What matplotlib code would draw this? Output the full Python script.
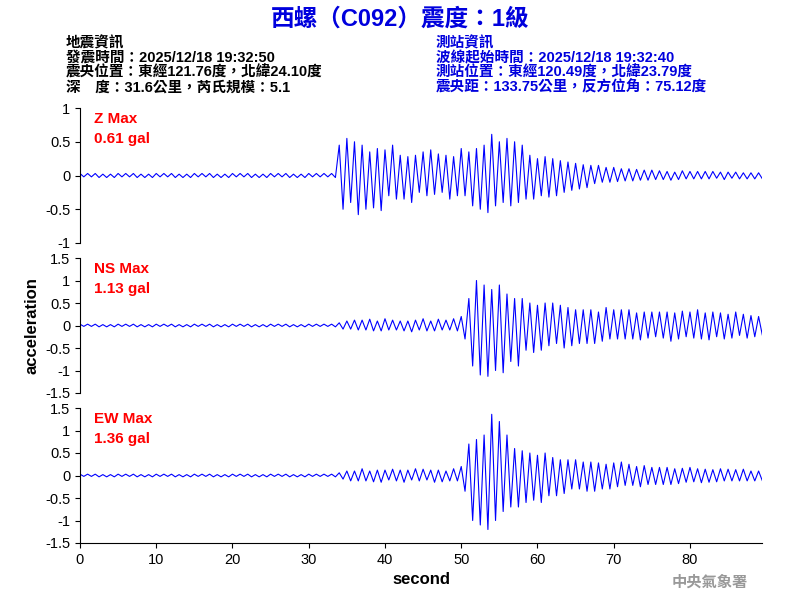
import matplotlib
matplotlib.use("Agg")
import matplotlib.pyplot as plt
import numpy as np

plt.rcParams['font.family'] = ['Liberation Sans', 'Noto Sans CJK TC']

# half-second peak amplitudes (gal)
z_amp = [0.03,0.02,0.03,0.02,0.03,0.03,0.02,0.03,0.02,0.03]*6 + [0.03,0.02,0.03,0.02,0.03,0.02,0.03,0.03] + \
 [0.45,0.5,0.55,0.4,0.5,0.58,0.45,0.5,0.35,0.48,0.4,0.52,0.38,0.3,0.45,0.35] + \
 [0.3,0.35,0.28,0.4,0.3,0.25,0.35,0.3,0.38,0.28,0.32,0.25,0.3,0.35,0.28,0.3,0.4,0.3,0.35,0.45] + \
 [0.4,0.5,0.45,0.55,0.61,0.45,0.5,0.4,0.55,0.45,0.5,0.4,0.45,0.35] + \
 [0.3,0.35,0.25,0.3,0.28,0.32,0.25,0.3,0.22,0.25,0.2,0.22,0.18,0.2,0.16,0.18] + \
 [0.15,0.12,0.15,0.1,0.12,0.1,0.12,0.09,0.1,0.08,0.1,0.08,0.09,0.07,0.08,0.07,0.08,0.06,0.07,0.06] + \
 [0.06,0.07,0.05,0.06,0.07,0.05,0.06,0.05,0.06,0.05,0.06,0.05,0.06,0.04,0.05,0.06,0.05,0.04,0.05,0.05,0.04,0.05,0.04,0.05,0.04,0.05,0.04,0.04,0.05,0.04]
ns_amp = [0.03,0.02,0.03,0.02,0.03,0.03,0.02,0.03,0.02,0.03]*6 + [0.03,0.02,0.03,0.02,0.03,0.02,0.03,0.03] + \
 [0.06,0.08,0.1,0.08,0.12,0.1,0.12,0.1,0.14,0.12,0.1,0.12,0.15,0.1,0.12,0.1] + \
 [0.1,0.12,0.1,0.14,0.12,0.1,0.15,0.12,0.1,0.12,0.14,0.1,0.12,0.1,0.15,0.12,0.2,0.3,0.6,0.9] + \
 [1.0,1.1,0.9,1.13,0.8,1.0,0.9,1.05,0.7,0.8,0.6,0.9,0.6,0.55] + \
 [0.5,0.6,0.45,0.55,0.5,0.45,0.5,0.4,0.45,0.5,0.4,0.45,0.35,0.4,0.35,0.4] + \
 [0.35,0.4,0.3,0.35,0.4,0.3,0.35,0.3,0.35,0.3,0.35,0.3,0.28,0.32,0.3,0.28,0.3,0.25,0.3,0.28] + \
 [0.3,0.35,0.28,0.3,0.32,0.25,0.3,0.28,0.35,0.3,0.28,0.32,0.3,0.25,0.28,0.3,0.25,0.28,0.3,0.22,0.25,0.28,0.22,0.25,0.2,0.22,0.25,0.2,0.18,0.2]
ew_amp = [0.03,0.02,0.03,0.02,0.03,0.03,0.02,0.03,0.02,0.03]*6 + [0.03,0.02,0.03,0.02,0.03,0.02,0.03,0.03] + \
 [0.06,0.08,0.1,0.12,0.1,0.12,0.15,0.12,0.1,0.14,0.12,0.15,0.12,0.1,0.14,0.12] + \
 [0.12,0.15,0.12,0.1,0.15,0.12,0.14,0.1,0.12,0.15,0.12,0.14,0.1,0.12,0.15,0.12,0.2,0.35,0.7,1.0] + \
 [0.8,1.1,0.9,1.2,1.36,1.0,1.2,0.8,0.9,0.7,0.6,0.7,0.55,0.6] + \
 [0.5,0.55,0.45,0.6,0.5,0.45,0.4,0.45,0.35,0.4,0.35,0.3,0.35,0.3,0.3,0.35] + \
 [0.3,0.35,0.28,0.3,0.25,0.3,0.28,0.25,0.3,0.22,0.25,0.22,0.2,0.25,0.22,0.2,0.18,0.2,0.18,0.2] + \
 [0.18,0.2,0.15,0.18,0.16,0.15,0.18,0.14,0.15,0.16,0.14,0.15,0.13,0.14,0.15,0.12,0.14,0.12,0.13,0.12,0.14,0.12,0.1,0.12,0.1,0.12,0.1,0.11,0.1,0.1]
channels = ["Z", "NS", "EW"]
peaks = ["0.61 gal", "1.13 gal", "1.36 gal"]
ylims = [(-1, 1), (-1.5, 1.5), (-1.5, 1.5)]
yticks = [[-1, -0.5, 0, 0.5, 1], [-1.5, -1, -0.5, 0, 0.5, 1, 1.5], [-1.5, -1, -0.5, 0, 0.5, 1, 1.5]]

fig = plt.figure(figsize=(8, 6), dpi=100)
fig.text(0.5, 0.968, "西螺（C092）震度：1級", color="#0000dd", fontsize=17, fontweight="bold", ha="center", va="center")
left = ["地震資訊", "發震時間：2025/12/18 19:32:50", "震央位置：東經121.76度，北緯24.10度", "深　度：31.6公里，芮氏規模：5.1"]
right = ["測站資訊", "波線起始時間：2025/12/18 19:32:40", "測站位置：東經120.49度，北緯23.79度", "震央距：133.75公里，反方位角：75.12度"]
for i, (l, r) in enumerate(zip(left, right)):
    y = 0.928 - i * 0.0245
    fig.text(0.082, y, l, fontsize=10.5, fontweight="bold", va="center")
    fig.text(0.545, y, r, fontsize=10.5, fontweight="bold", va="center", color="#0000dd")
fig.text(0.935, 0.03, "中央氣象署", fontsize=11, fontweight="bold", color="#999999", ha="right", va="center")

tops = [108, 258, 408]
axes = []
for i, ch in enumerate(channels):
    ax = fig.add_axes([0.1, 1 - (tops[i] + 135) / 600, 0.853, 135 / 600])
    amp = np.array([z_amp, ns_amp, ew_amp][i])
    t = np.arange(len(amp)) * 0.5
    sign = np.where(np.arange(len(amp)) % 2 == 0, 1, -1)
    ax.plot(t, amp * sign, color="#0000ff", lw=0.8)
    ax.set_xlim(0, 89.5)
    ax.set_ylim(*ylims[i])
    ax.set_yticks(yticks[i])
    ax.set_yticklabels([f"{v:g}" for v in yticks[i]])
    for s in ["top", "right"]:
        ax.spines[s].set_visible(False)
    ax.tick_params(labelsize=10.5)
    ax.text(0.02, 0.97, f"{ch} Max\n{peaks[i]}", transform=ax.transAxes, color="red", fontsize=11,
            fontweight="bold", va="top", linespacing=1.5)
    if i < 2:
        ax.spines["bottom"].set_visible(False)
        ax.set_xticks([])
    else:
        ax.set_xticks(range(0, 90, 10))
        ax.set_xlabel("second", fontsize=12, fontweight="bold")
    axes.append(ax)
axes[1].set_ylabel("acceleration", fontsize=12, fontweight="bold")
fig.savefig("out.png", dpi=100)
